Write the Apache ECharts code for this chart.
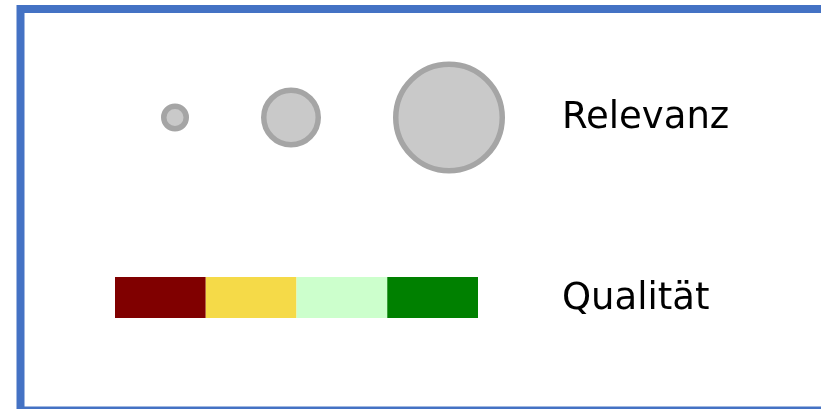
<!DOCTYPE html>
<html>
<head>
<meta charset="utf-8">
<script src="https://cdn.jsdelivr.net/npm/echarts@6/dist/echarts.min.js"></script>
<style>
html,body{margin:0;padding:0;background:#fff;}
#chart{width:821px;height:409px;}
</style>
</head>
<body>
<div id="chart"></div>
<script>
// Legend data
const relevanceLabel = 'Relevanz';
const qualityLabel = 'Qualität';
const relevanceDiameters = [28, 60, 112];          // outer diameter of each relevance bubble
const qualityClasses = ['schlecht', 'mäßig', 'gut', 'sehr gut'];
const qualityValues = [1, 1, 1, 1];
const qualityColors = ['#800000', '#F5DA48', '#CCFFCC', '#008000'];

// Layout (positions/styles, not data)
const W = 821, H = 409;
const bubbleBorder = 5.5;
const bubbleGap = 72;
const firstCenterX = 175;
const bubbleCenterY = 117.5;
const labelFont = '37px "DejaVu Sans", sans-serif';

// compute bubble centers from sizes with constant edge gap
const bubbleX = [];
let cx = firstCenterX;
relevanceDiameters.forEach((d, i) => {
  if (i > 0) cx += relevanceDiameters[i - 1] / 2 + bubbleGap + d / 2;
  bubbleX.push(cx);
});
const bubbleData = relevanceDiameters.map((d, i) => [bubbleX[i], bubbleCenterY, d]);

const chart = echarts.init(document.getElementById('chart'), null, {renderer: 'canvas'});
const option = {
  backgroundColor: '#ffffff',
  animation: false,
  grid: [
    {left: 0, top: 0, width: W, height: H},
    {left: 115, top: 277, width: 363, height: 41}
  ],
  xAxis: [
    {gridIndex: 0, type: 'value', min: 0, max: W, show: false},
    {gridIndex: 1, type: 'value', min: 0, max: 4, show: false}
  ],
  yAxis: [
    {gridIndex: 0, type: 'value', min: 0, max: H, inverse: true, show: false},
    {gridIndex: 1, type: 'category', data: [qualityLabel], show: false}
  ],
  series: [
    {
      type: 'scatter',
      xAxisIndex: 0, yAxisIndex: 0,
      data: bubbleData,
      symbol: 'circle',
      symbolSize: v => v[2] - bubbleBorder,
      itemStyle: {color: '#C9C9C9', borderColor: '#A5A5A5', borderWidth: bubbleBorder, opacity: 1},
      silent: true
    }
  ].concat(qualityClasses.map((name, i) => ({
    type: 'bar',
    name: name,
    xAxisIndex: 1, yAxisIndex: 1,
    stack: 'q',
    barWidth: '100%',
    data: [qualityValues[i]],
    itemStyle: {color: qualityColors[i]},
    silent: true
  }))),
  graphic: [
    {
      type: 'rect',
      shape: {x: 20.5, y: 9, width: 900, height: 401.5},
      style: {fill: null, stroke: '#4472C4', lineWidth: 8},
      silent: true
    },
    {
      type: 'text',
      x: 562, y: 136.5,
      style: {text: relevanceLabel, font: labelFont, fill: '#000', verticalAlign: 'bottom'}
    },
    {
      type: 'text',
      x: 562, y: 317.5,
      style: {text: qualityLabel, font: labelFont, fill: '#000', verticalAlign: 'bottom'}
    }
  ]
};
chart.setOption(option);
</script>
</body>
</html>
